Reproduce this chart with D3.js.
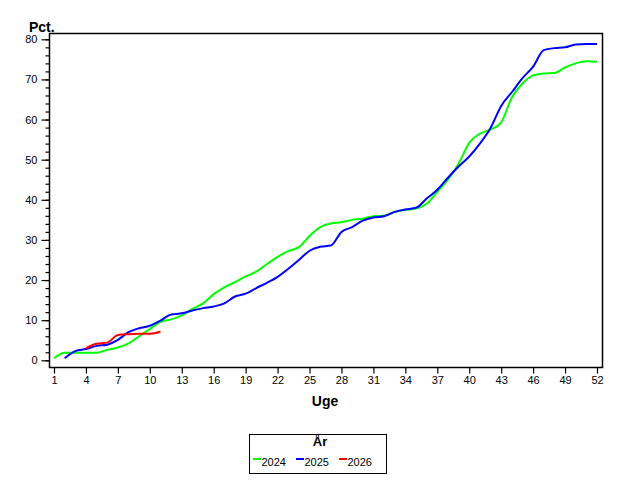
<!DOCTYPE html>
<html>
<head>
<meta charset="utf-8">
<script src="https://cdn.jsdelivr.net/npm/d3@7"></script>
<style>
    body { margin: 0; background: #fff; }
    text { font-family: "Liberation Sans", Arial, sans-serif; }
</style>
</head>
<body>
<div id="chart"></div>
<script>
const weeks = d3.range(1, 53);
const xTicks = d3.range(1, 53, 3);
const yTicks = [0, 10, 20, 30, 40, 50, 60, 70, 80];
const yMinorTicks = d3.range(0, 81, 2);

const seriesNames = ["2024", "2025", "2026"];
const seriesColors = ["#00ff00", "#0000ff", "#ff0000"];

// value per week, null = no data
const values2024 = [
    0.5, 1.9, 1.9, 1.9, 1.9, 2.6, 3.2, 4.2, 6.0, 7.8,
    9.6, 10.2, 11.2, 12.8, 14.2, 16.5, 18.2, 19.5, 20.9, 22.1,
    24.0, 25.8, 27.2, 28.2, 31.0, 33.2, 34.1, 34.4, 35.0, 35.3,
    35.9, 36.0, 37.0, 37.5, 37.8, 39.0, 42.0, 45.0, 49.0, 54.2,
    56.5, 57.5, 59.3, 65.5, 69.0, 71.0, 71.5, 71.6, 73.0, 74.0,
    74.5, 74.4
];
const values2025 = [
    null, 0.5, 2.3, 2.8, 3.6, 3.9, 5.1, 7.0, 8.0, 8.6,
    9.9, 11.4, 11.7, 12.4, 13.0, 13.4, 14.2, 15.9, 16.6, 18.0,
    19.3, 20.8, 22.8, 25.0, 27.3, 28.3, 28.6, 32.0, 33.2, 34.8,
    35.6, 35.9, 37.0, 37.6, 38.0, 40.3, 42.5, 45.5, 48.3, 50.8,
    54.0, 57.9, 63.4, 66.8, 70.3, 73.2, 77.3, 77.8, 78.0, 78.7,
    78.8, 78.8
];
const values2026 = [
    null, null, null, 3.0, 4.1, 4.4, 6.3, 6.5, 6.6, 6.6,
    7.1
];

const drawChart = id => {
    const width = 640;
    const height = 480;

    const svg = d3.select(id)
        .append("svg")
        .attr("width", width)
        .attr("height", height);

    const x = d3.scaleLinear().domain([1, 52]).range([54, 597]);
    const y = d3.scaleLinear().domain([0, 80]).range([360.3, 39.3]);

    const frame = { left: 49.5, right: 602.5, top: 33.5, bottom: 367.5 };

    svg.append("rect")
        .attr("x", frame.left)
        .attr("y", frame.top)
        .attr("width", frame.right - frame.left)
        .attr("height", frame.bottom - frame.top)
        .attr("fill", "none")
        .attr("stroke", "#000")
        .attr("stroke-width", 1.5);

    // y axis: major ticks every 10, minor every 2
    const yAxis = svg.append("g")
        .attr("transform", `translate(${frame.left},0)`)
        .call(d3.axisLeft(y).tickValues(yMinorTicks).tickSize(4).tickFormat(""));
    yAxis.select(".domain").remove();

    const yAxisMajor = svg.append("g")
        .attr("transform", `translate(${frame.left},0)`)
        .call(d3.axisLeft(y).tickValues(yTicks).tickSize(8).tickPadding(4));
    yAxisMajor.select(".domain").remove();
    yAxisMajor.selectAll("text")
        .attr("font-size", 11)
        .attr("font-family", "Liberation Sans, Arial, sans-serif");

    const xAxis = svg.append("g")
        .attr("transform", `translate(0,${frame.bottom})`)
        .call(d3.axisBottom(x).tickValues(xTicks).tickSize(6).tickPadding(3));
    xAxis.select(".domain").remove();
    xAxis.selectAll("text")
        .attr("font-size", 11)
        .attr("font-family", "Liberation Sans, Arial, sans-serif");

    svg.selectAll(".tick line")
        .attr("stroke", "#000")
        .attr("stroke-width", 1.2);

    svg.append("text")
        .attr("x", 29)
        .attr("y", 32)
        .attr("font-size", 14)
        .attr("font-weight", "bold")
        .text("Pct.");

    svg.append("text")
        .attr("x", 325)
        .attr("y", 406)
        .attr("text-anchor", "middle")
        .attr("font-size", 14)
        .attr("font-weight", "bold")
        .text("Uge");

    const line = d3.line()
        .defined(d => d.v != null)
        .x(d => x(d.w))
        .y(d => y(d.v))
        .curve(d3.curveMonotoneX);

    const allValues = [values2024, values2025, values2026];

    allValues.forEach((vals, i) => {
        const pts = vals.map((v, j) => ({ w: weeks[j], v: v }));
        svg.append("path")
            .datum(pts)
            .attr("d", line)
            .attr("fill", "none")
            .attr("stroke", seriesColors[i])
            .attr("stroke-width", 2);
    });

    // legend
    const legend = svg.append("g");

    legend.append("rect")
        .attr("x", 249.5)
        .attr("y", 434.5)
        .attr("width", 137)
        .attr("height", 39)
        .attr("fill", "none")
        .attr("stroke", "#000")
        .attr("stroke-width", 1);

    legend.append("text")
        .attr("x", 320)
        .attr("y", 446)
        .attr("text-anchor", "middle")
        .attr("font-size", 13)
        .attr("font-weight", "bold")
        .text("År");

    const itemX = [253, 296, 339];

    seriesNames.forEach((name, i) => {
        legend.append("line")
            .attr("x1", itemX[i])
            .attr("x2", itemX[i] + 8)
            .attr("y1", 459)
            .attr("y2", 459)
            .attr("stroke", seriesColors[i])
            .attr("stroke-width", 2);

        legend.append("text")
            .attr("x", itemX[i] + 8.5)
            .attr("y", 465.5)
            .attr("font-size", 11)
            .text(name);
    });
}

drawChart("#chart");
</script>
</body>
</html>
